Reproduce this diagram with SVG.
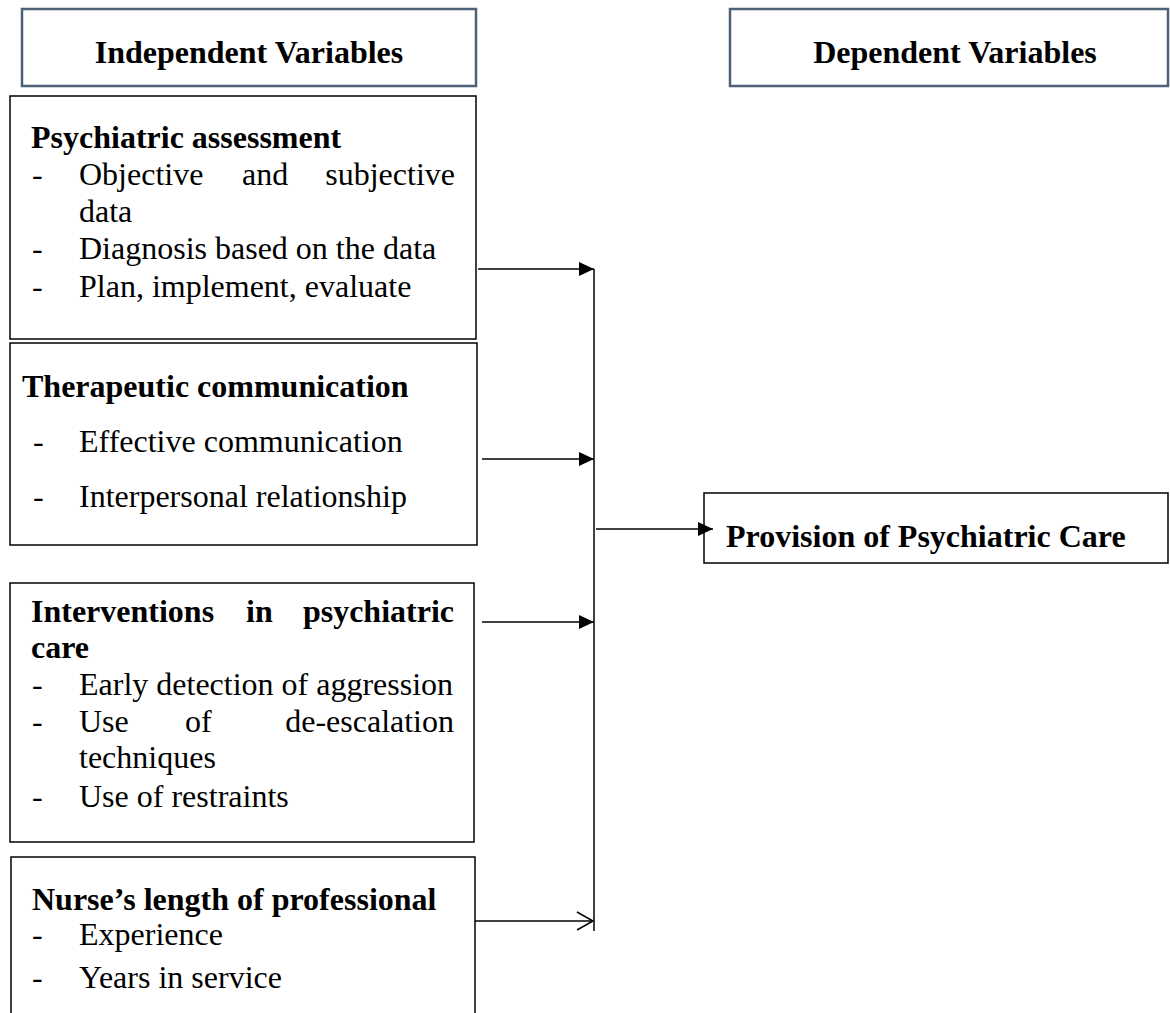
<svg xmlns="http://www.w3.org/2000/svg" width="1170" height="1013" viewBox="0 0 1170 1013">
<style>
  text { font-family: "Liberation Serif", "Times New Roman", serif; font-size: 32px; fill: #000; }
  .b { font-weight: bold; }
  .hdr { fill: #fff; stroke: #4f6079; stroke-width: 2.5; }
  .box { fill: #fff; stroke: #000; stroke-width: 1.5; }
  .ln { stroke: #000; stroke-width: 1.5; fill: none; }
</style>
<defs>
  <marker id="fill" markerWidth="15" markerHeight="14" refX="15" refY="7" orient="auto" markerUnits="userSpaceOnUse">
    <path d="M0,0 L15,7 L0,14 Z" fill="#000"/>
  </marker>
  <marker id="open" markerWidth="20" markerHeight="20" refX="17" refY="10" orient="auto" markerUnits="userSpaceOnUse">
    <path d="M1,1 L17,10 L1,19" fill="none" stroke="#000" stroke-width="1.5"/>
  </marker>
</defs>
<rect width="1170" height="1013" fill="#fff"/>

<g id="independent-header">
  <rect class="hdr" x="22" y="9" width="454" height="77"/>
  <text class="b" x="249" y="63" text-anchor="middle">Independent Variables</text>
</g>

<g id="dependent-header">
  <rect class="hdr" x="730" y="9" width="438" height="77"/>
  <text class="b" x="955" y="63" text-anchor="middle">Dependent Variables</text>
</g>

<g id="psychiatric-assessment">
  <rect class="box" x="10" y="96" width="466" height="243"/>
  <text class="b" x="31" y="148">Psychiatric assessment</text>
  <text x="32" y="185">-</text>
  <text x="79" y="185">Objective</text>
  <text x="242" y="185">and</text>
  <text x="455" y="185" text-anchor="end">subjective</text>
  <text x="79" y="222">data</text>
  <text x="32" y="259">-</text>
  <text x="79" y="259">Diagnosis based on the data</text>
  <text x="32" y="297">-</text>
  <text x="79" y="297">Plan, implement, evaluate</text>
</g>

<g id="therapeutic-communication">
  <rect class="box" x="10" y="343" width="467" height="202"/>
  <text class="b" x="22" y="397">Therapeutic communication</text>
  <text x="33" y="452">-</text>
  <text x="79" y="452">Effective communication</text>
  <text x="33" y="507">-</text>
  <text x="79" y="507">Interpersonal relationship</text>
</g>

<g id="interventions">
  <rect class="box" x="10" y="583" width="464" height="259"/>
  <text class="b" x="31" y="622">Interventions</text>
  <text class="b" x="246" y="622">in</text>
  <text class="b" x="454" y="622" text-anchor="end">psychiatric</text>
  <text class="b" x="31" y="658">care</text>
  <text x="32" y="695">-</text>
  <text x="79" y="695">Early detection of aggression</text>
  <text x="32" y="732">-</text>
  <text x="79" y="732">Use</text>
  <text x="185" y="732">of</text>
  <text x="454" y="732" text-anchor="end">de-escalation</text>
  <text x="79" y="768">techniques</text>
  <text x="32" y="807">-</text>
  <text x="79" y="807">Use of restraints</text>
</g>

<g id="nurse-length">
  <rect class="box" x="11" y="857" width="464" height="170"/>
  <text class="b" x="32" y="910">Nurse’s length of professional</text>
  <text x="32" y="945">-</text>
  <text x="79" y="945">Experience</text>
  <text x="32" y="988">-</text>
  <text x="79" y="988">Years in service</text>
</g>

<g id="provision">
  <rect class="box" x="704" y="493" width="464" height="70"/>
  <text class="b" x="726" y="547">Provision of Psychiatric Care</text>
</g>

<g id="connectors">
  <line class="ln" x1="594" y1="269" x2="594" y2="931"/>
  <line class="ln" x1="478" y1="269" x2="594" y2="269" marker-end="url(#fill)"/>
  <line class="ln" x1="482" y1="459" x2="594" y2="459" marker-end="url(#fill)"/>
  <line class="ln" x1="482" y1="622" x2="594" y2="622" marker-end="url(#fill)"/>
  <line class="ln" x1="475" y1="921" x2="593" y2="921" marker-end="url(#open)"/>
  <line class="ln" x1="596" y1="529" x2="713" y2="529" marker-end="url(#fill)"/>
</g>
</svg>
